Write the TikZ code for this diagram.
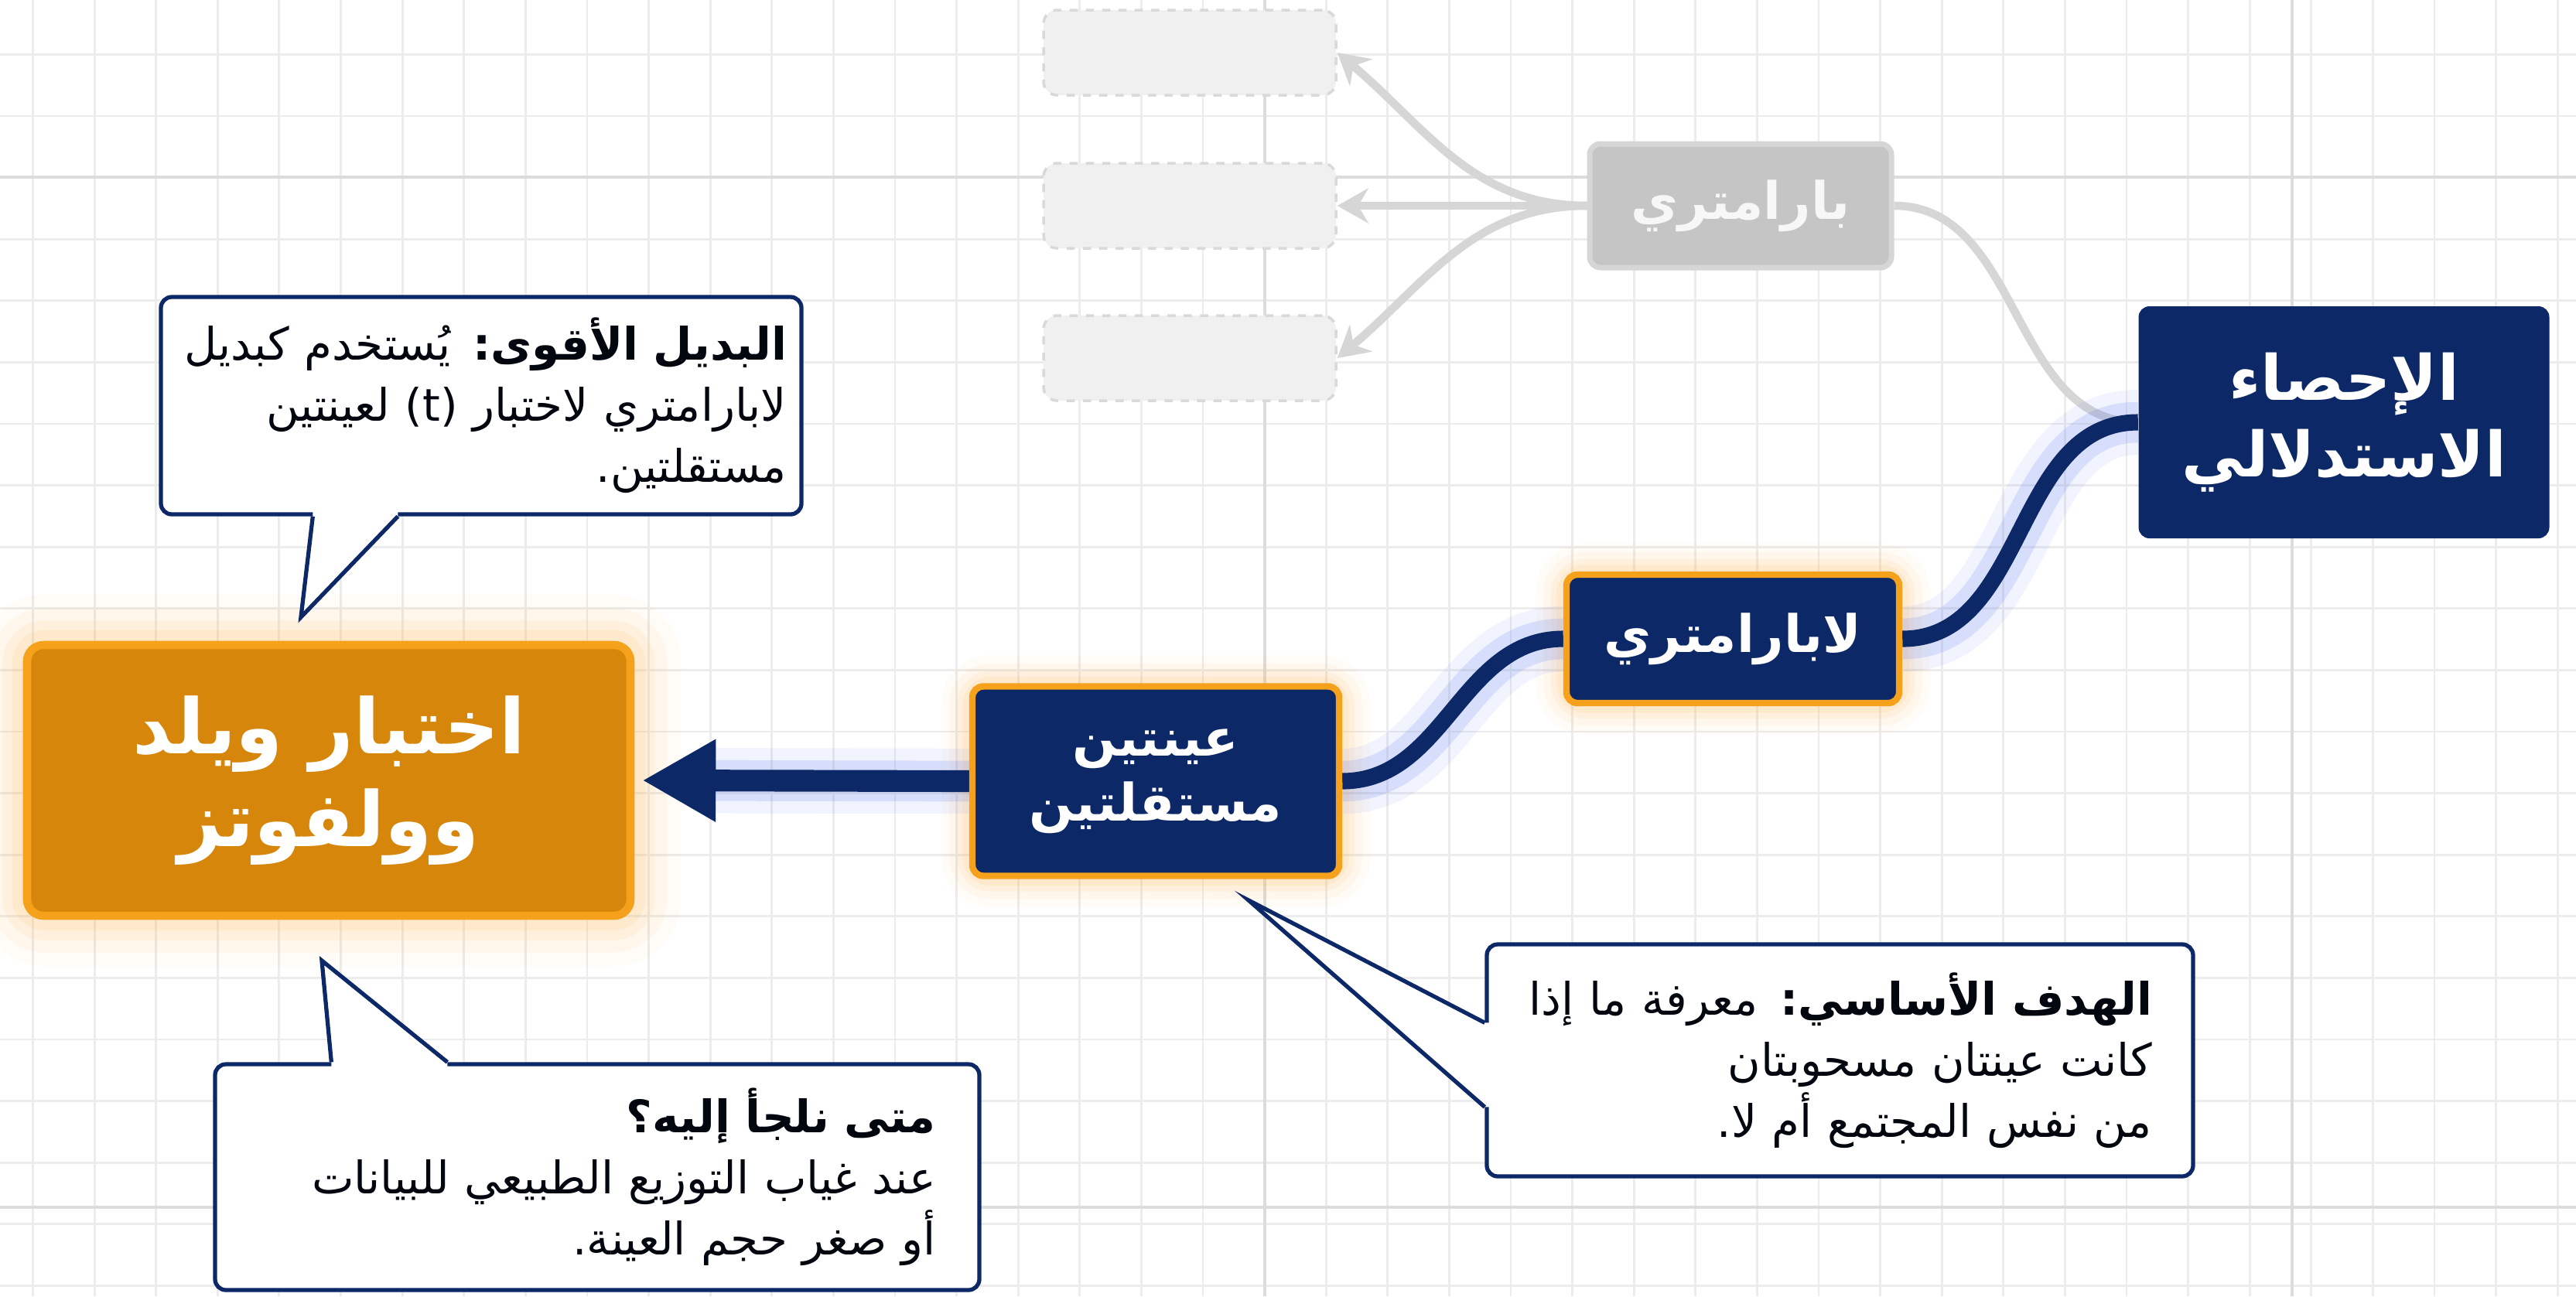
\documentclass[tikz,border=0pt]{standalone}
\usepackage{fontspec}
\newfontfamily\arabicfont[Script=Arabic]{DejaVu Sans}
\TeXXeTstate=1
\usetikzlibrary{arrows.meta,backgrounds,calc}
\definecolor{navy}{HTML}{0C2866}
\definecolor{amber}{HTML}{F5A11C}
\definecolor{amberdark}{HTML}{D6860A}
\definecolor{glowblue}{HTML}{3D63F2}
\definecolor{glowamber}{HTML}{FFB23E}
\definecolor{ghostgray}{HTML}{C5C5C5}
\definecolor{ghostline}{HTML}{D6D6D6}
\definecolor{gridgray}{HTML}{ECECEC}
\definecolor{gridmajor}{HTML}{DCDCDC}
\newcommand{\ar}[1]{\beginR #1\endR}

\begin{document}
\begin{tikzpicture}[
  mainbox/.style={fill=navy, rounded corners=4pt, text=white, align=center,
    font=\arabicfont\bfseries\fontsize{23}{28}\selectfont, minimum width=5.31cm, minimum height=3.0cm},
  stepnode/.style={fill=navy, draw=amber, line width=2.4pt, rounded corners=4pt, text=white,
    align=center, font=\arabicfont\bfseries\fontsize{19}{24}\selectfont},
  hot/.style={fill=amberdark, draw=amber, line width=3pt, rounded corners=6pt, text=white,
    align=center, font=\arabicfont\bfseries\fontsize{28}{34}\selectfont, minimum width=7.8cm, minimum height=3.5cm},
  faded/.style={fill=ghostgray, draw=ghostline, line width=2pt, rounded corners=4pt, text=white!94!gray,
    font=\arabicfont\bfseries\fontsize{19}{24}\selectfont, minimum width=3.9cm, minimum height=1.6cm},
  ghost/.style={fill=gray!12, draw=gray!30, dashed, line width=1pt, rounded corners=5pt,
    minimum width=3.78cm, minimum height=1.1cm},
  callbox/.style={draw=navy, fill=white, line width=1.5pt, rounded corners=4pt, align=right,
    font=\arabicfont\fontsize{16.5}{22.5}\selectfont, text=black!85!navy},
  tail/.style={draw=navy, line width=1.5pt, line join=miter},
  link/.style={draw=navy, line width=6pt, preaction={draw=glowblue, line width=24pt, opacity=0.07},
    preaction={draw=glowblue, line width=15pt, opacity=0.14}},
  fade/.style={draw=ghostline, line width=3pt},
  gridline/.style={draw=gridgray, line width=0.8pt},
]
\useasboundingbox (0,0) rectangle (33.30,-16.76);

% boxes of the chain
\node[mainbox] (stat) at (30.30,-5.46) {\ar{الإحصاء}\\\ar{الاستدلالي}};
\node[faded] (param) at (22.50,-2.66) {\ar{بارامتري}};
\node[ghost] (g1) at (15.38,-0.68) {};
\node[ghost] (g2) at (15.38,-2.66) {};
\node[ghost] (g3) at (15.38,-4.63) {};
\node[stepnode, minimum width=4.30cm, minimum height=1.66cm] (nonpar) at (22.40,-8.26) {\ar{لابارامتري}};
\node[stepnode, minimum width=4.74cm, minimum height=2.45cm] (indep) at (14.94,-10.10) {\ar{عينتين}\\\ar{مستقلتين}};
\node[hot] (wald) at (4.25,-10.09) {\ar{اختبار ويلد}\\\ar{وولفوتز}};

% notes
\node[callbox, text width=7.90cm, inner xsep=0.19cm, minimum height=2.81cm] (altnote) at (6.22,-5.245)
  {\ar{{\bfseries البديل الأقوى:} يُستخدم كبديل}\\\ar{لابارامتري لاختبار \beginL(t)\endL{} لعينتين}\\\ar{مستقلتين.}};
\node[callbox, text width=8.07cm, inner xsep=0.53cm, minimum height=3.0cm] (goalnote) at (23.785,-13.71)
  {\ar{{\bfseries الهدف الأساسي:} معرفة ما إذا}\\\ar{كانت عينتان مسحوبتان}\\\ar{من نفس المجتمع أم لا.}};
\node[callbox, text width=8.76cm, inner xsep=0.56cm, minimum height=2.92cm] (whennote) at (7.72,-15.22)
  {\ar{{\bfseries متى نلجأ إليه؟}}\\\ar{عند غياب التوزيع الطبيعي للبيانات}\\\ar{أو صغر حجم العينة.}};

% tails of the notes
\coordinate (altTip) at (3.89,-7.98);
\coordinate (a1) at ($(altnote.south west)+(1.99,0)$);
\coordinate (a2) at ($(altnote.south west)+(3.09,0)$);
\fill[white] ($(a1)+(0,0.06)$) -- (a1) -- (altTip) -- (a2) -- ($(a2)+(0,0.06)$) -- cycle;
\draw[tail] (a1) -- (altTip) -- (a2);

\coordinate (goalTip) at (16.14,-11.64);
\coordinate (b1) at ($(goalnote.north west)+(0,-1.04)$);
\coordinate (b2) at ($(goalnote.north west)+(0,-2.13)$);
\fill[white] ($(b1)+(0.06,0)$) -- (b1) -- (goalTip) -- (b2) -- ($(b2)+(0.06,0)$) -- cycle;
\draw[tail] (b1) -- (goalTip) -- (b2);

\coordinate (whenTip) at (4.16,-12.42);
\coordinate (c1) at ($(whennote.north west)+(1.53,0)$);
\coordinate (c2) at ($(whennote.north west)+(3.03,0)$);
\fill[white] ($(c1)+(0,-0.06)$) -- (c1) -- (whenTip) -- (c2) -- ($(c2)+(0,-0.06)$) -- cycle;
\draw[tail] (c1) -- (whenTip) -- (c2);

\begin{scope}[on background layer]
  \fill[white] (0,0) rectangle (33.30,-16.76);
  \foreach \i in {0,...,41} \draw[gridline] ({0.425+0.796*\i},0) -- ++(0,-16.76);
  \foreach \j in {0,...,20} \draw[gridline] (0,{-0.704-0.796*\j}) -- ++(33.30,0);
  \draw[gridmajor, line width=1.2pt] (16.35,0) -- ++(0,-16.76) (29.63,0) -- ++(0,-16.76);
  \draw[gridmajor, line width=1.2pt] (0,-2.29) -- ++(33.30,0) (0,-15.61) -- ++(33.30,0);
  % glow round the highlighted boxes
  \foreach \n/\s in {wald/1, indep/0.6, nonpar/0.6}
    \foreach \w/\o in {34/0.04, 24/0.06, 15/0.08, 8/0.10}
      \draw[glowamber, line width={\s*\w pt}, opacity=\o, rounded corners=8pt] (\n.south west) rectangle (\n.north east);
  % connectors
  \draw[fade] (stat.west) to[out=180,in=0] (param.east);
  \draw[fade, -{Stealth[length=0.4cm,width=0.45cm]}] (param.west) to[out=180,in=-40] (g1.east);
  \draw[fade, -{Stealth[length=0.4cm,width=0.45cm]}] (param.west) -- (g2.east);
  \draw[fade, -{Stealth[length=0.4cm,width=0.45cm]}] (param.west) to[out=180,in=40] (g3.east);
  \draw[link] (stat.west) to[out=180,in=0] (nonpar.east);
  \draw[link] (nonpar.west) to[out=180,in=0] (indep.east);
  \draw[link, line width=8pt, -{Triangle[length=0.95cm,width=1.0cm]}, shorten >=0.1cm] (indep.west) -- (wald.east);
\end{scope}
\end{tikzpicture}
\end{document}
